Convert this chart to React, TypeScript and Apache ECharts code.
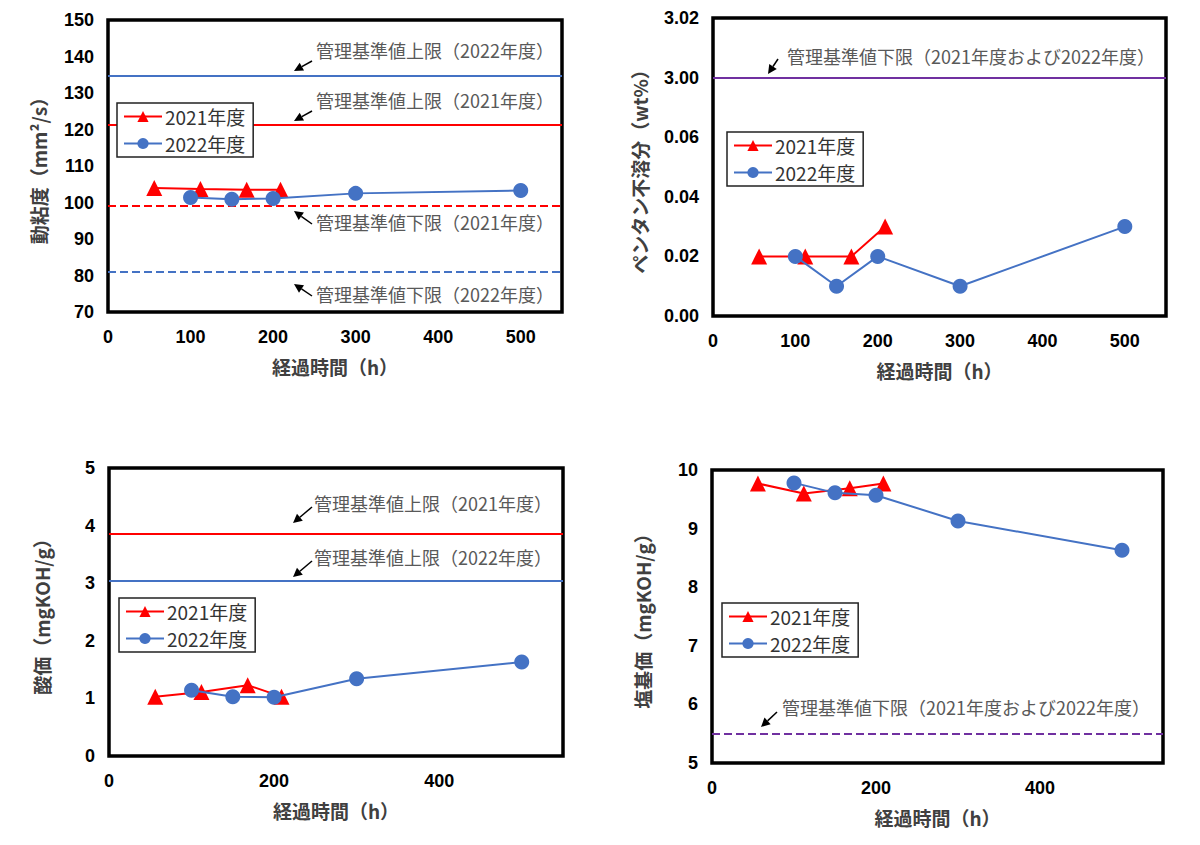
import React, { useEffect, useRef } from "react";
import * as echarts from "echarts";

// ---- data ----
const hours2021 = [56, 112, 168, 209];
const hours2022 = [100, 150, 200, 300, 500];

const viscosity2021 = [104.0, 103.7, 103.5, 103.5];
const viscosity2022 = [101.4, 100.9, 101.1, 102.5, 103.3];
const viscosityUpper2022 = 134.7;
const viscosityUpper2021 = 121.2;
const viscosityLower2021 = 99.0;
const viscosityLower2022 = 81.0;
const viscosityTicks = [70, 80, 90, 100, 110, 120, 130, 140, 150];

const pentane2021 = [0.02, 0.02, 0.02, 0.03];
const pentane2022 = [0.02, 0.01, 0.02, 0.01, 0.03];
// broken axis: the 5th and 6th tick positions are labelled 3.00 and 3.02
const pentaneTickLabels = ["0.00", "0.02", "0.04", "0.06", "3.00", "3.02"];
const pentaneLowerPos = 0.08; // position of the "3.00" tick

const acid2021 = [1.03, 1.11, 1.23, 1.03];
const acid2022 = [1.14, 1.03, 1.02, 1.34, 1.63];
const acidUpper2021 = 3.85;
const acidUpper2022 = 3.04;

const base2021 = [9.77, 9.6, 9.69, 9.77];
const base2022 = [9.78, 9.61, 9.57, 9.13, 8.63];
const baseLower = 5.5;

const names = ["2021年度", "2022年度"];
const yNames = ["動粘度（mm²/s）", "ペンタン不溶分（wt%）", "酸価（mgKOH/g）", "塩基価（mgKOH/g）"];
const xName = "経過時間（h）";

const RED = "#FF0000";
const BLUE = "#4472C4";
const PURPLE = "#7030A0";
const FONT = "'Liberation Sans', 'Noto Sans CJK JP', sans-serif";
const JFONT = "'Noto Sans CJK JP', 'Liberation Sans', sans-serif";

const grids = [
  { left: 108, top: 20, width: 454, height: 292 },
  { left: 713, top: 18, width: 453, height: 298 },
  { left: 109, top: 468, width: 454, height: 288 },
  { left: 712, top: 470, width: 451, height: 293 },
];

const legends = [
  { left: 117, top: 103 },
  { left: 727, top: 132 },
  { left: 119, top: 598 },
  { left: 722, top: 603 },
];

function pairs(xs: number[], ys: number[]) {
  return xs.map((x, i) => [x, ys[i]]);
}

function arrow(x1: number, y1: number, x2: number, y2: number) {
  const dx = x2 - x1;
  const dy = y2 - y1;
  const len = Math.hypot(dx, dy);
  const ux = dx / len;
  const uy = dy / len;
  const bx = x2 - ux * 9;
  const by = y2 - uy * 9;
  const px = -uy;
  const py = ux;
  return [
    {
      type: "line",
      shape: { x1, y1, x2: bx, y2: by },
      style: { stroke: "#000", lineWidth: 1.5 },
      silent: true,
    },
    {
      type: "polygon",
      shape: {
        points: [
          [x2, y2],
          [bx + px * 4.5, by + py * 4.5],
          [bx - px * 4.5, by - py * 4.5],
        ],
      },
      style: { fill: "#000" },
      silent: true,
    },
  ];
}

function note(x: number, y: number, text: string) {
  return {
    type: "text",
    x,
    y,
    silent: true,
    style: {
      text,
      fill: "#595959",
      fontSize: 18,
      fontFamily: JFONT,
      verticalAlign: "middle",
      align: "left",
    },
  };
}

function lineStyleFor(color: string, type: string) {
  return { color, type, width: 2 };
}

export default function App() {
  const ref = useRef<HTMLDivElement>(null);

  useEffect(() => {
    if (!ref.current) return;
    const chart = echarts.init(ref.current, undefined, { renderer: "svg" });

    const xMaxes = [550, 550, 550, 550];
    const xIntervals = [100, 100, 200, 200];
    const yMins = [70, 0, 0, 5];
    const yMaxes = [150, 0.1, 5, 10];
    const yIntervals = [10, 0.02, 1, 1];
    const yNameGaps = [60, 64, 58, 60];

    const xAxis = grids.map((_, i) => ({
      type: "value",
      gridIndex: i,
      min: 0,
      max: xMaxes[i],
      interval: xIntervals[i],
      axisLine: { show: false },
      axisTick: { show: false },
      splitLine: { show: false },
      axisLabel: {
        fontSize: 18,
        fontWeight: "bold",
        color: "#000",
        fontFamily: FONT,
        margin: 16,
        showMaxLabel: false,
      },
      name: xName,
      nameLocation: "middle",
      nameGap: 45,
      nameTextStyle: { fontSize: 19, fontWeight: "bold", color: "#404040", fontFamily: JFONT },
    }));

    const yAxis = grids.map((_, i) => ({
      type: "value",
      gridIndex: i,
      min: yMins[i],
      max: yMaxes[i],
      interval: yIntervals[i],
      axisLine: { show: false },
      axisTick: { show: false },
      splitLine: { show: false },
      axisLabel: {
        fontSize: 18,
        fontWeight: "bold",
        color: "#000",
        fontFamily: FONT,
        margin: 14,
        formatter:
          i === 1
            ? (v: number) => pentaneTickLabels[Math.round(v / 0.02)] ?? ""
            : i === 0
            ? (v: number) => (viscosityTicks.includes(Math.round(v)) ? String(Math.round(v)) : "")
            : undefined,
      },
      name: yNames[i],
      nameLocation: "middle",
      nameRotate: 90,
      nameGap: yNameGaps[i],
      nameTextStyle: { fontSize: 19, fontWeight: "bold", color: "#404040", fontFamily: JFONT },
    }));

    const data2021 = [viscosity2021, pentane2021, acid2021, base2021];
    const data2022 = [viscosity2022, pentane2022, acid2022, base2022];
    const refLines = [
      [
        { yAxis: viscosityUpper2022, lineStyle: lineStyleFor(BLUE, "solid") },
        { yAxis: viscosityUpper2021, lineStyle: lineStyleFor(RED, "solid") },
        { yAxis: viscosityLower2021, lineStyle: lineStyleFor(RED, "dashed") },
        { yAxis: viscosityLower2022, lineStyle: lineStyleFor(BLUE, "dashed") },
      ],
      [{ yAxis: pentaneLowerPos, lineStyle: lineStyleFor(PURPLE, "solid") }],
      [
        { yAxis: acidUpper2021, lineStyle: lineStyleFor(RED, "solid") },
        { yAxis: acidUpper2022, lineStyle: lineStyleFor(BLUE, "solid") },
      ],
      [{ yAxis: baseLower, lineStyle: lineStyleFor(PURPLE, "dashed") }],
    ];

    const series: any[] = [];
    grids.forEach((_, i) => {
      series.push({
        name: names[0],
        type: "line",
        xAxisIndex: i,
        yAxisIndex: i,
        data: pairs(hours2021, data2021[i]),
        symbol: "triangle",
        symbolSize: 16,
        lineStyle: { color: RED, width: 2 },
        itemStyle: { color: RED },
        emphasis: { disabled: true },
        z: 3,
      });
      series.push({
        name: names[1],
        type: "line",
        xAxisIndex: i,
        yAxisIndex: i,
        data: pairs(hours2022, data2022[i]),
        symbol: "circle",
        symbolSize: 15,
        lineStyle: { color: BLUE, width: 2 },
        itemStyle: { color: BLUE },
        emphasis: { disabled: true },
        z: 4,
        markLine: {
          silent: true,
          symbol: ["none", "none"],
          label: { show: false },
          data: refLines[i],
          z: 2,
        },
      });
    });

    const legend = legends.map((l) => ({
      left: l.left,
      top: l.top,
      orient: "vertical",
      data: names,
      itemWidth: 38,
      itemHeight: 14,
      itemGap: 8,
      padding: [4, 8, 4, 6],
      borderColor: "#222",
      borderWidth: 1.5,
      backgroundColor: "#fff",
      textStyle: { fontSize: 19, color: "#333", fontFamily: JFONT, padding: [0, 0, 0, -2] },
      selectedMode: false,
    }));

    const graphic: any[] = [
      note(316, 50, "管理基準値上限（2022年度）"),
      ...arrow(312, 61, 294, 71),
      note(316, 100, "管理基準値上限（2021年度）"),
      ...arrow(312, 111, 294, 121),
      note(316, 222, "管理基準値下限（2021年度）"),
      ...arrow(312, 224, 294, 211),
      note(316, 294, "管理基準値下限（2022年度）"),
      ...arrow(312, 296, 294, 284),
      note(787, 56, "管理基準値下限（2021年度および2022年度）"),
      ...arrow(778, 59, 768, 74),
      note(314, 503, "管理基準値上限（2021年度）"),
      ...arrow(312, 507, 293, 523),
      note(314, 557, "管理基準値上限（2022年度）"),
      ...arrow(312, 561, 293, 577),
      note(782, 707, "管理基準値下限（2021年度および2022年度）"),
      ...arrow(777, 712, 761, 727),
    ];

    chart.setOption({
      animation: false,
      backgroundColor: "#fff",
      grid: grids.map((g) => ({
        ...g,
        show: true,
        borderColor: "#000",
        borderWidth: 3.5,
        backgroundColor: "transparent",
        containLabel: false,
      })),
      xAxis,
      yAxis,
      legend,
      series,
      graphic,
    });

    return () => chart.dispose();
  }, []);

  return (
    <div
      ref={ref}
      style={{ position: "fixed", left: 0, top: 0, width: 1200, height: 845, background: "#fff" }}
    />
  );
}
